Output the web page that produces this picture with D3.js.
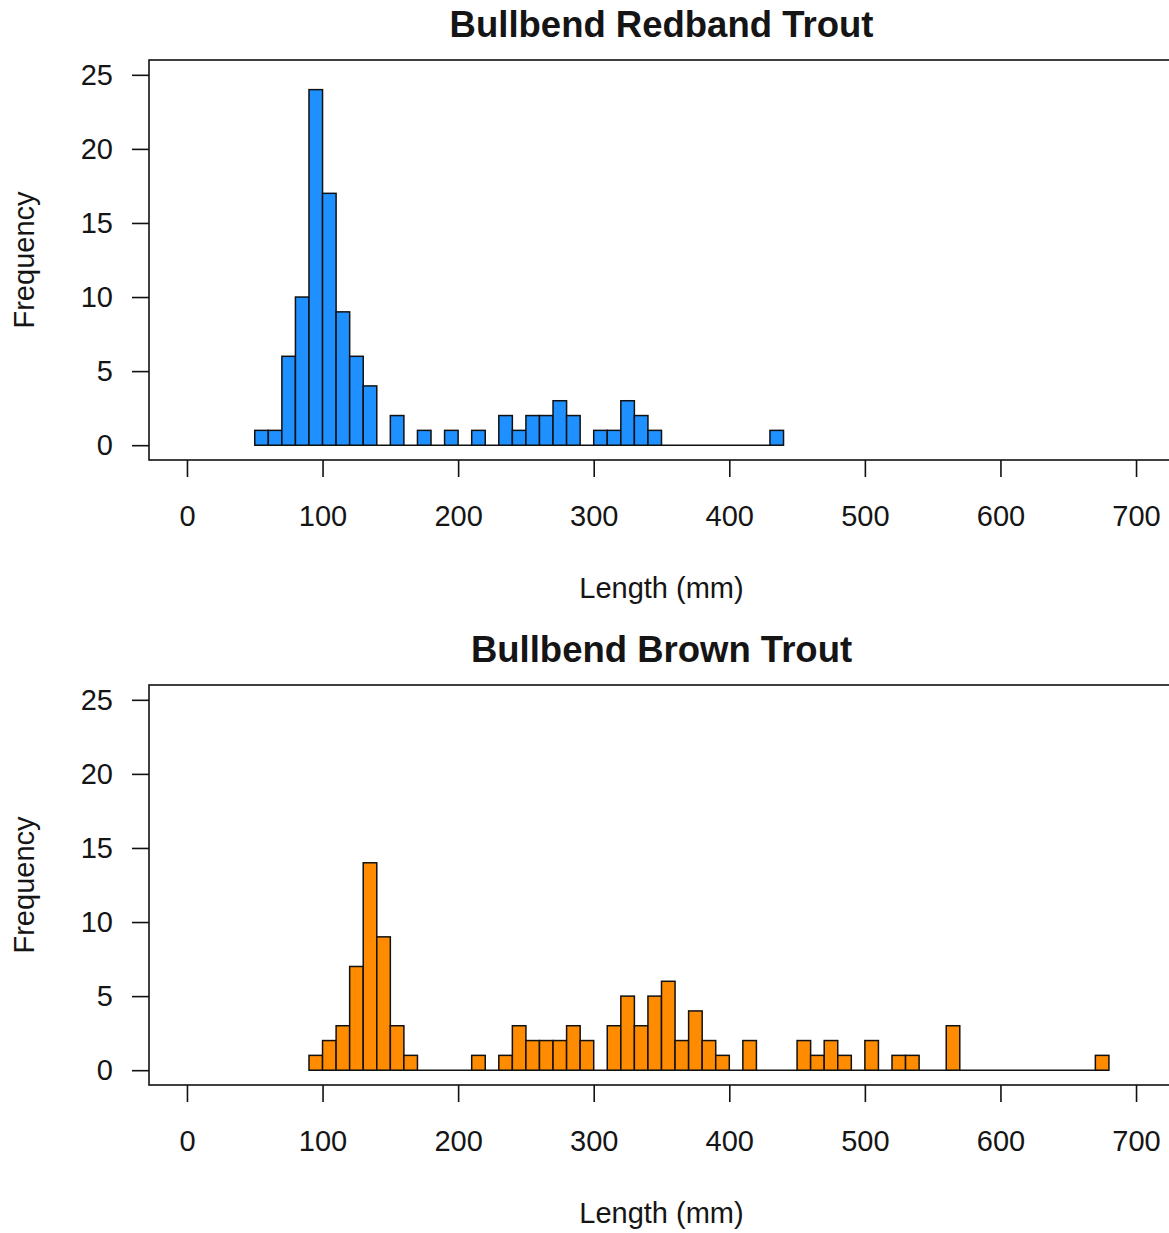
<!DOCTYPE html>
<html>
<head>
<meta charset="utf-8">
<title>Bullbend trout length histograms</title>
<script src="https://cdn.jsdelivr.net/npm/d3@7"></script>
<style>
  body { margin: 0; background: #fff; }
  svg { display: block; }
  text { font-family: "Liberation Sans", Arial, sans-serif; fill: #151515; }
</style>
</head>
<body>
<div id="vis"></div>
<script>
// Length-frequency counts in 10 mm bins (lower edge of first bin given separately)
var redbandStart = 50;
var redbandCounts = [1, 1, 6, 10, 24, 17, 9, 6, 4, 0, 2, 0, 1, 0, 1, 0, 1, 0, 2, 1,
                     2, 2, 3, 2, 0, 1, 1, 3, 2, 1, 0, 0, 0, 0, 0, 0, 0, 0, 1];

var brownStart = 90;
var brownCounts = [1, 2, 3, 7, 14, 9, 3, 1, 0, 0, 0, 0, 1, 0, 1, 3, 2, 2, 2, 3,
                   2, 0, 3, 5, 3, 5, 6, 2, 4, 2, 1, 0, 2, 0, 0, 0, 2, 1, 2, 1,
                   0, 2, 0, 1, 1, 0, 0, 3, 0, 0, 0, 0, 0, 0, 0, 0, 0, 0, 1];

var binWidth = 10;
var xTicks = [0, 100, 200, 300, 400, 500, 600, 700];
var yTicks = [0, 5, 10, 15, 20, 25];

var panels = [
    { title: 'Bullbend Redband Trout', start: redbandStart, counts: redbandCounts, fill: '#1E90FF' },
    { title: 'Bullbend Brown Trout', start: brownStart, counts: brownCounts, fill: '#FF8C00' }
];

// SVG width and height
var width = 1169;
var height = 1233;
var panelHeight = 625;

// plot region of each panel (R style: axis limits padded by 4%)
var plot = { left: 149, right: 1174, top: 60, bottom: 460 };

var svg = d3.select('#vis')
    .append('svg')
    .attr('width', width)
    .attr('height', height);

var xScale = d3.scaleLinear()
    .domain([-28, 728])
    .range([plot.left, plot.right]);

var yScale = d3.scaleLinear()
    .domain([-1, 26])
    .range([plot.bottom, plot.top]);

panels.forEach(function(p, i) {
    var g = svg.append('g')
        .attr('transform', 'translate(0,' + (i * panelHeight) + ')');

    // turn counts into bins
    var bins = p.counts.map(function(c, j) {
        var x0 = p.start + j * binWidth;
        return { x0: x0, x1: x0 + binWidth, count: c };
    });

    // baseline under the whole bin range (empty bins show as a flat line)
    g.append('line')
        .attr('x1', xScale(bins[0].x0))
        .attr('x2', xScale(bins[bins.length - 1].x1))
        .attr('y1', yScale(0))
        .attr('y2', yScale(0))
        .attr('stroke', '#111')
        .attr('stroke-width', 1.5);

    g.selectAll('rect.bar')
        .data(bins.filter(function(d) { return d.count > 0; }))
        .enter()
        .append('rect')
        .attr('class', 'bar')
        .attr('x', function(d) { return xScale(d.x0); })
        .attr('width', function(d) { return xScale(d.x1) - xScale(d.x0); })
        .attr('y', function(d) { return yScale(d.count); })
        .attr('height', function(d) { return yScale(0) - yScale(d.count); })
        .attr('fill', p.fill)
        .attr('stroke', '#111')
        .attr('stroke-width', 1.5);

    // axes
    var xAxis = d3.axisBottom(xScale)
        .tickValues(xTicks)
        .tickSize(17)
        .tickPadding(28)
        .tickSizeOuter(0);

    var yAxis = d3.axisLeft(yScale)
        .tickValues(yTicks)
        .tickSize(17)
        .tickPadding(19)
        .tickSizeOuter(0);

    var gX = g.append('g')
        .attr('transform', 'translate(0,' + plot.bottom + ')')
        .call(xAxis);

    var gY = g.append('g')
        .attr('transform', 'translate(' + plot.left + ',0)')
        .call(yAxis);

    [gX, gY].forEach(function(ax) {
        ax.attr('font-size', 29).attr('font-family', null);
        ax.select('.domain').remove();
        ax.selectAll('.tick line').attr('stroke', '#111').attr('stroke-width', 1.6);
        ax.selectAll('.tick text').attr('fill', '#151515');
    });

    // box around plot region
    g.append('rect')
        .attr('x', plot.left)
        .attr('y', plot.top)
        .attr('width', plot.right - plot.left)
        .attr('height', plot.bottom - plot.top)
        .attr('fill', 'none')
        .attr('stroke', '#111')
        .attr('stroke-width', 1.6);

    // title and axis labels
    var cx = (plot.left + plot.right) / 2;

    g.append('text')
        .attr('x', cx)
        .attr('y', 37)
        .attr('text-anchor', 'middle')
        .attr('font-size', 36.5)
        .attr('font-weight', 'bold')
        .text(p.title);

    g.append('text')
        .attr('x', cx)
        .attr('y', 598)
        .attr('text-anchor', 'middle')
        .attr('font-size', 29)
        .text('Length (mm)');

    g.append('text')
        .attr('transform', 'translate(34,' + ((plot.top + plot.bottom) / 2) + ') rotate(-90)')
        .attr('text-anchor', 'middle')
        .attr('font-size', 29)
        .text('Frequency');
});
</script>
</body>
</html>
